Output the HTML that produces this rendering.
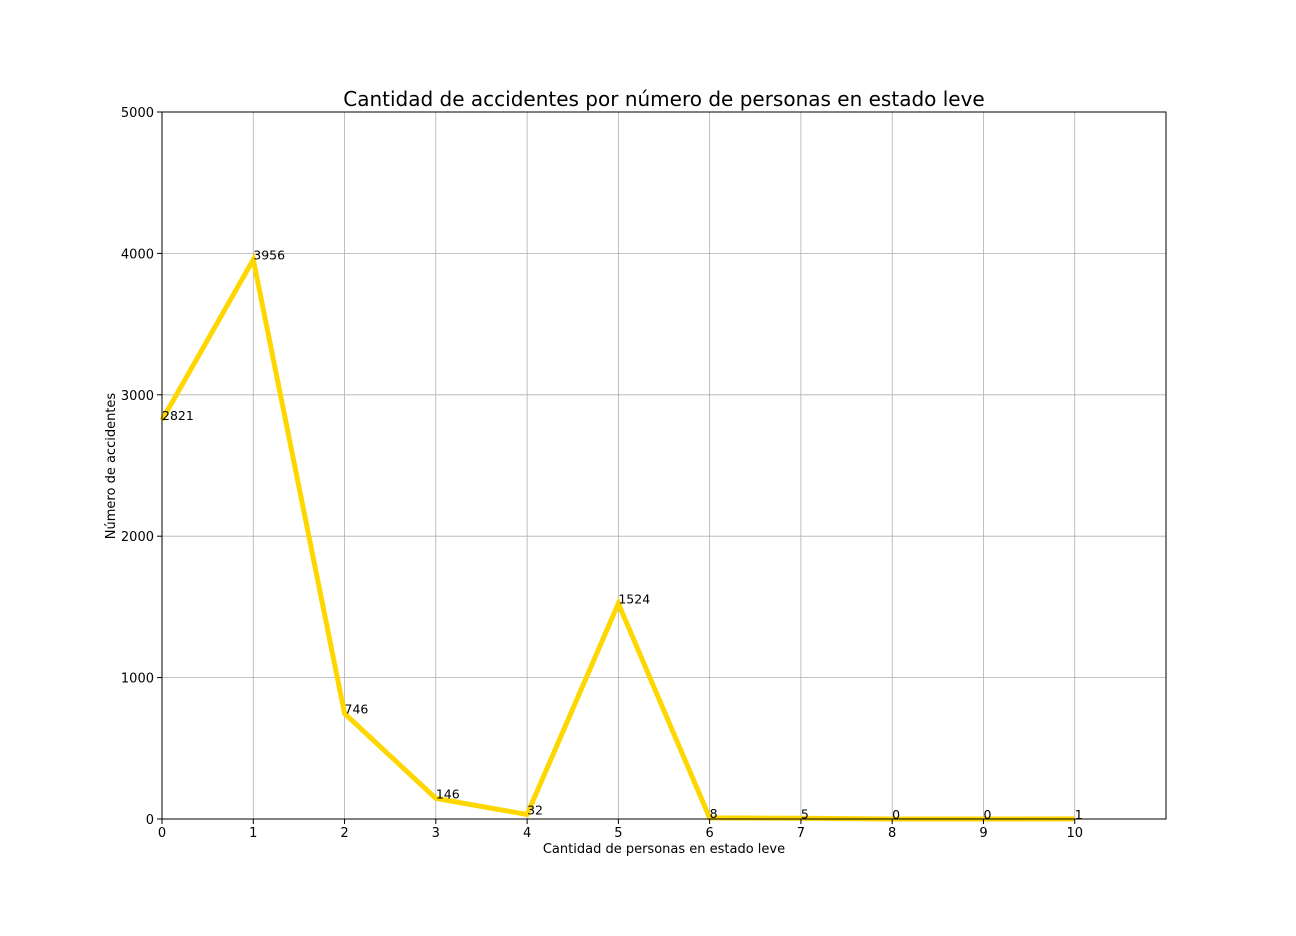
<!DOCTYPE html>
<html><head><meta charset="utf-8"><style>
html,body{margin:0;padding:0;background:#fff;}
svg{display:block;font-family:"DejaVu Sans","Liberation Sans",sans-serif;}
</style></head><body>
<svg id="chart" width="1296" height="936" viewBox="0 0 1296 936">
<rect width="1296" height="936" fill="#fff"/>
<g id="grid"></g>
<g id="series"></g>
<rect x="162" y="112" width="1004" height="707" fill="none" stroke="#000" stroke-width="1"/>
<g id="ticks"></g>
<g id="labels"></g>
<text x="664" y="106" text-anchor="middle" font-size="20">Cantidad de accidentes por número de personas en estado leve</text>
<text x="664" y="853" text-anchor="middle" font-size="13">Cantidad de personas en estado leve</text>
<text x="115" y="466" text-anchor="middle" font-size="13" transform="rotate(-90 115 466)">Número de accidentes</text>
</svg>
<script>
const categories=[0,1,2,3,4,5,6,7,8,9,10];
const values=[2821,3956,746,146,32,1524,8,5,0,0,1];
const yTicks=[0,1000,2000,3000,4000,5000];
const xTicks=[0,1,2,3,4,5,6,7,8,9,10];
const NS="http://www.w3.org/2000/svg";
const L=162,R=1166,T=112,B=819,XMAX=11,YMAX=5000;
const xs=v=>L+(R-L)*v/XMAX, ys=v=>B-(B-T)*v/YMAX;
function mk(tag,attrs,parent,text){const e=document.createElementNS(NS,tag);for(const k in attrs)e.setAttribute(k,attrs[k]);if(text!==undefined)e.textContent=text;parent.appendChild(e);return e;}
const grid=document.getElementById('grid'),ticks=document.getElementById('ticks'),labels=document.getElementById('labels'),series=document.getElementById('series');
xTicks.forEach(t=>{const x=xs(t);
 const g=mk('line',{x1:x,x2:x,y1:T,y2:B,stroke:'#b0b0b0','stroke-width':0.8},grid);
 
 
 mk('line',{x1:x,x2:x,y1:B,y2:B+5,stroke:'#000'},ticks);
 const tx=mk('text',{x:x,y:B+18,'text-anchor':'middle','font-size':13},ticks,String(t));
 
 
});
yTicks.forEach(t=>{const y=ys(t);
 const g=mk('line',{x1:L,x2:R,y1:y,y2:y,stroke:'#b0b0b0','stroke-width':0.8},grid);
 
 
 mk('line',{x1:L-5,x2:L,y1:y,y2:y,stroke:'#000'},ticks);
 const tx=mk('text',{x:L-8,y:y+5,'text-anchor':'end','font-size':13},ticks,String(t));
 
 
});
const pts=categories.map((c,i)=>xs(c)+','+ys(values[i])).join(' ');
const line=mk('polyline',{points:pts,fill:'none',stroke:'#FFD700','stroke-width':5,'stroke-linejoin':'miter'},series);


categories.forEach((c,i)=>{
 const t=mk('text',{x:xs(c),y:ys(values[i]),'font-size':12.5},labels,String(values[i]));
 
 
});
</script>
</body></html>
